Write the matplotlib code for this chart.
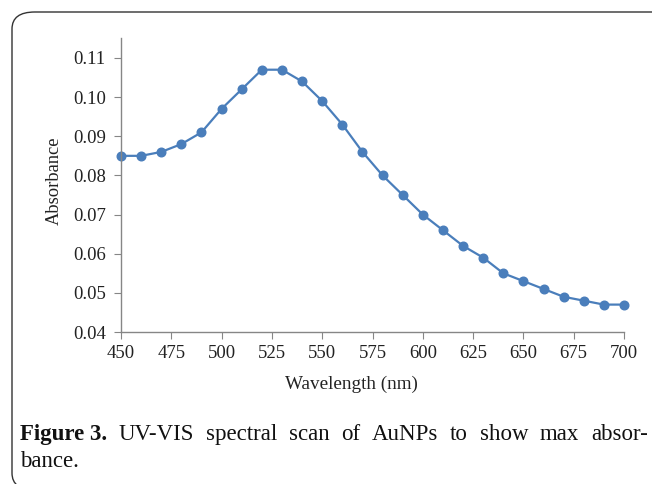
import matplotlib
matplotlib.use("Agg")
import matplotlib.pyplot as plt
from matplotlib.patches import FancyBboxPatch

wavelength = [450, 460, 470, 480, 490, 500, 510, 520, 530, 540, 550, 560, 570,
              580, 590, 600, 610, 620, 630, 640, 650, 660, 670, 680, 690, 700]
absorbance = [0.085, 0.085, 0.086, 0.088, 0.091, 0.097, 0.102, 0.107, 0.107, 0.104,
              0.099, 0.093, 0.086, 0.080, 0.075, 0.070, 0.066, 0.062, 0.059, 0.055,
              0.053, 0.051, 0.049, 0.048, 0.047, 0.047]
xticks = [450, 475, 500, 525, 550, 575, 600, 625, 650, 675, 700]
yticks = [0.04, 0.05, 0.06, 0.07, 0.08, 0.09, 0.10, 0.11]

plt.rcParams['font.family'] = ['Liberation Serif', 'DejaVu Serif']
W, H = 652, 484
fig = plt.figure(figsize=(W/100, H/100), dpi=100)

x0, x1 = 121, 624
y0, ytop = 332, 38
ax = fig.add_axes([x0/W, 1 - y0/H, (x1-x0)/W, (y0-ytop)/H])
color = '#4a7ebb'
ax.plot(wavelength, absorbance, color=color, lw=1.6, marker='o', ms=6.2,
        markerfacecolor=color, markeredgecolor=color, clip_on=False)
ax.set_xlim(450, 700)
ax.set_ylim(0.04, 0.1151)
ax.set_xticks(xticks)
ax.set_yticks(yticks)
ax.set_yticklabels([f"{v:.2f}" for v in yticks])
for s in ['top', 'right']:
    ax.spines[s].set_visible(False)
for s in ['left', 'bottom']:
    ax.spines[s].set_color('#868686')
    ax.spines[s].set_linewidth(1.0)
ax.tick_params(axis='both', direction='out', length=5, color='#868686',
               labelsize=13.5, labelcolor='#222222')
ax.tick_params(axis='x', pad=4)
ax.tick_params(axis='y', pad=6)

tc = '#222222'
fig.text(351/W, 1 - 389/H, 'Wavelength (nm)', fontsize=13.8, color=tc,
         ha='center', va='baseline')
fig.text(54/W, 1 - 181/H, 'Absorbance', fontsize=13.3, color=tc,
         ha='center', va='center', rotation=90)

bx, by, bbot = 12, 12, 490
box = FancyBboxPatch((bx/W, 1 - bbot/H), (W + 40 - bx)/W, (bbot - by)/H,
                     boxstyle="round,pad=0,rounding_size=0.035",
                     transform=fig.transFigure, fill=False,
                     edgecolor='#333333', lw=1.0, clip_on=False)
fig.add_artist(box)

fig.canvas.draw()
r = fig.canvas.get_renderer()
cap_y1 = 1 - 440/H
cap_y2 = 1 - 467/H
fs = 16.5
left, right = 20, 648
t0 = fig.text(left/W, cap_y1, 'Figure 3.', fontsize=fs, weight='bold',
              va='baseline', color='#111111')
words = "UV-VIS spectral scan of AuNPs to show max absor-".split()
arts = [fig.text(0, cap_y1, w, fontsize=fs, va='baseline', color='#111111') for w in words]
widths = [a.get_window_extent(r).width for a in arts]
w0 = t0.get_window_extent(r).width
total = w0 + sum(widths)
gap = (right - left - total) / len(words)
xpos = left + w0 + gap
for a, w in zip(arts, widths):
    a.set_x(xpos / W)
    xpos += w + gap
fig.text(left/W, cap_y2, 'bance.', fontsize=fs, va='baseline', color='#111111')

fig.savefig('out.png', dpi=100)
